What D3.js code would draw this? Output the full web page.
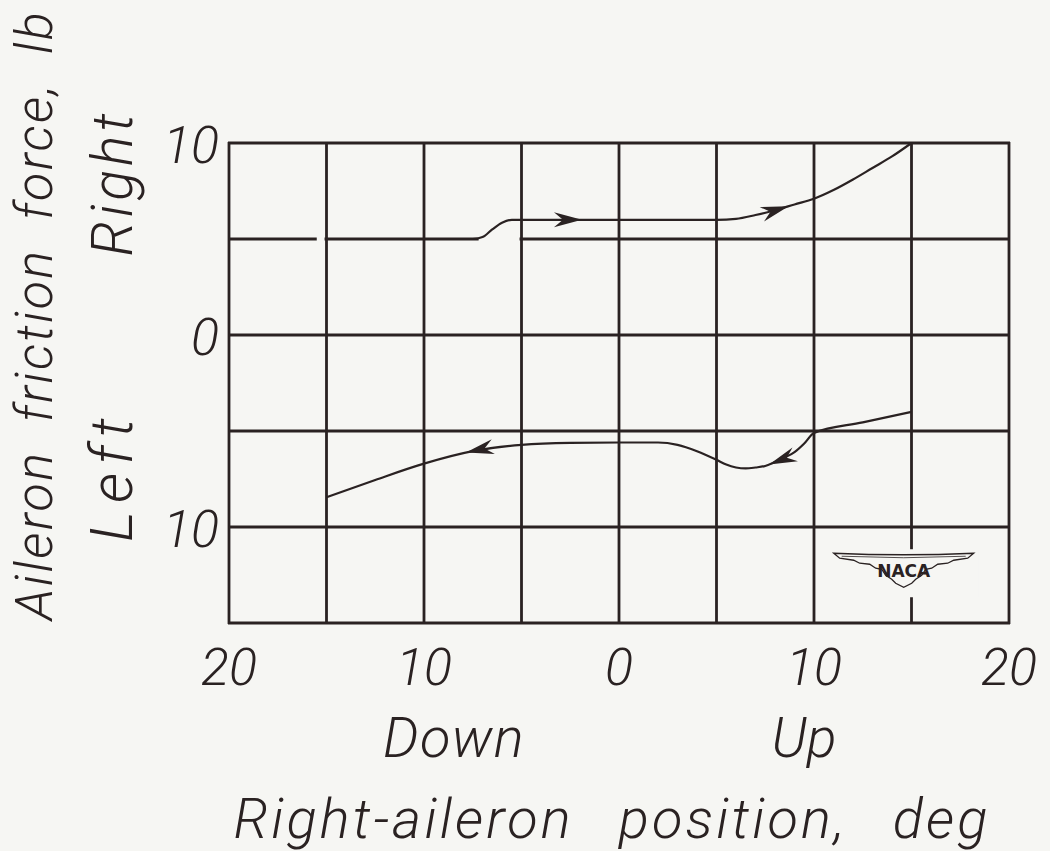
<!DOCTYPE html>
<html>
<head>
<meta charset="utf-8">
<script src="https://cdn.jsdelivr.net/npm/d3@7"></script>
<style>
  html, body { margin: 0; padding: 0; background: #f6f6f3; }
  svg { display: block; }
  text { font-family: Roboto, 'DejaVu Sans', sans-serif; font-style: italic; font-weight: 300; fill: #2a2222; }
</style>
</head>
<body>
<div id="chart-area"></div>
<script>
// right-aileron position (deg, down negative) vs friction force (lb, left negative)
const upperX = [-15, -10, -7.5, -7, -6.5, -6, -5.5, -5, 0, 5, 6, 7, 8, 9, 10, 11, 12, 13, 14, 15];
const upperY = [5, 5, 5, 5.1, 5.5, 5.85, 6, 6, 6, 6, 6.05, 6.25, 6.5, 6.8, 7.1, 7.55, 8.1, 8.7, 9.3, 10];
const lowerX = [-15, -12.5, -10, -7.5, -5, -2.5, 0, 2, 3, 4, 5, 5.5, 6, 6.5, 7, 7.5, 8, 8.5, 9, 9.5, 10, 12.5, 15];
const lowerY = [-8.45, -7.55, -6.7, -6.05, -5.72, -5.62, -5.6, -5.6, -5.72, -6.05, -6.5, -6.75, -6.9, -6.95, -6.9, -6.82, -6.62, -6.38, -6.1, -5.65, -5.1, -4.55, -4.0];
const upperArrows = [-1.9, 8.7];   // arrow tips, drawn toward increasing position
const lowerArrows = [7.7, -7.85];  // arrow tips, drawn toward decreasing position

const xTickValues = [-20, -10, 0, 10, 20];
const xTickLabels = ['20', '10', '0', '10', '20'];
const yTickValues = [10, 0, -10];
const yTickLabels = ['10', '0', '10'];

let width = 1050;
let height = 851;
let ink = '#2a2222';
let bg = '#f6f6f3';

let svg = d3
  .select('#chart-area')
  .append('svg')
  .attr('width', width)
  .attr('height', height);

let x = d3.scaleLinear().domain([-20, 20]).range([229, 1009]);
let y = d3.scaleLinear().domain([-15, 10]).range([623, 143]);

//grid
svg
  .selectAll('.vgrid')
  .data(x.ticks(8))
  .enter()
  .append('line')
  .attr('x1', (d) => x(d))
  .attr('x2', (d) => x(d))
  .attr('y1', y(10) - 1)
  .attr('y2', y(-15) + 1)
  .style('stroke', ink)
  .style('stroke-width', 2.8);

svg
  .selectAll('.hgrid')
  .data(y.ticks(5))
  .enter()
  .append('line')
  .attr('x1', x(-20) - 1)
  .attr('x2', x(20) + 1)
  .attr('y1', (d) => y(d))
  .attr('y2', (d) => y(d))
  .style('stroke', ink)
  .style('stroke-width', 2.8);

//gaps where the grid was broken on the original sheet
[[-15.5, -15.1], [-7.2, -5.1]].forEach((g) => {
  svg
    .append('line')
    .attr('x1', x(g[0]))
    .attr('x2', x(g[1]))
    .attr('y1', y(5))
    .attr('y2', y(5))
    .style('stroke', bg)
    .style('stroke-width', 4);
});

//NACA wing logo, sits over the grid
let logo = svg.append('g').attr('transform', `translate(${x(14.6)}, ${y(-12.2)})`);
logo.append('rect').attr('x', -75).attr('y', -20).attr('width', 150).attr('height', 48).style('fill', bg);
logo
  .append('path')
  .attr(
    'd',
    'M-70,-16 Q0,-13 70,-16 L64,-11 L50,-9 L44,-6 L34,-5 L28,-1 L22,0 L18,6 L12,10 L8,14 L0,18 L-8,14 L-12,10 L-18,6 L-22,0 L-28,-1 L-34,-5 L-44,-6 L-50,-9 L-64,-11 Z',
  )
  .style('fill', 'none')
  .style('stroke', ink)
  .style('stroke-width', 1.3);
logo
  .append('path')
  .attr('d', 'M-62,-13 Q0,-10 62,-13')
  .style('fill', 'none')
  .style('stroke', ink)
  .style('stroke-width', 0.8);
logo
  .append('text')
  .attr('x', 0)
  .attr('y', 8)
  .attr('text-anchor', 'middle')
  .style('font-family', "'DejaVu Sans', sans-serif")
  .style('font-size', '17px')
  .style('font-style', 'normal')
  .style('font-weight', 'bold')
  .text('NACA');

//curves
let line = d3
  .line()
  .x((d) => x(d[0]))
  .y((d) => y(d[1]))
  .curve(d3.curveMonotoneX);

function drawCurve(xs, ys, tips, reverse) {
  let path = svg
    .append('path')
    .datum(xs.map((v, i) => [v, ys[i]]))
    .attr('d', line)
    .style('fill', 'none')
    .style('stroke', ink)
    .style('stroke-width', 2.2);

  let node = path.node();
  let total = node.getTotalLength();
  tips.forEach((t) => {
    let target = x(t);
    let lo = 0;
    let hi = total;
    for (let k = 0; k < 40; k++) {
      let mid = (lo + hi) / 2;
      if (node.getPointAtLength(mid).x < target) lo = mid;
      else hi = mid;
    }
    let p = node.getPointAtLength(lo);
    let a = node.getPointAtLength(Math.max(0, lo - 2));
    let b = node.getPointAtLength(Math.min(total, lo + 2));
    let angle = (Math.atan2(b.y - a.y, b.x - a.x) * 180) / Math.PI;
    if (reverse) angle += 180;
    svg
      .append('path')
      .attr('d', 'M0,0 L-28,-7.5 L-19,0 L-28,7.5 Z')
      .attr('transform', `translate(${p.x}, ${p.y}) rotate(${angle})`)
      .style('fill', ink);
  });
}

drawCurve(upperX, upperY, upperArrows, false);
drawCurve(lowerX, lowerY, lowerArrows, true);

//tick labels
svg
  .selectAll('.xlabel')
  .data(xTickValues)
  .enter()
  .append('text')
  .attr('x', (d) => x(d))
  .attr('y', y(-15) + 62)
  .attr('text-anchor', 'middle')
  .style('font-size', '52px')
  .text((d, i) => xTickLabels[i]);

svg
  .selectAll('.ylabel')
  .data(yTickValues)
  .enter()
  .append('text')
  .attr('x', 219)
  .attr('y', (d) => y(d) + 20)
  .attr('text-anchor', 'end')
  .style('font-size', '52px')
  .text((d, i) => yTickLabels[i]);

//axis titles, fitted to the width of the hand lettering:
//extra room shared between letter spacing and the gaps between words
function label(txt, tx, ty, rot, len, size) {
  let t = svg
    .append('text')
    .attr('transform', `translate(${tx}, ${ty}) rotate(${rot})`)
    .attr('text-anchor', 'middle')
    .style('font-size', size + 'px')
    .text(txt);
  let natural = t.node().getComputedTextLength();
  let spaces = txt.split(' ').length - 1;
  let extra = len - natural;
  if (extra > 0) {
    let wordShare = spaces > 0 ? 0.4 : 0;
    t.style('letter-spacing', (extra * (1 - wordShare)) / txt.length + 'px');
    if (spaces > 0) t.style('word-spacing', (extra * wordShare) / spaces + 'px');
  } else {
    t.attr('textLength', len).attr('lengthAdjust', 'spacingAndGlyphs');
  }
}

label('Down', 454, 757, 0, 142, 56);
label('Up', 804, 757, 0, 65, 56);
label('Right-aileron position, deg', 612, 838, 0, 757, 56);
label('Aileron friction force, lb', 52, 315, -90, 610, 52);
label('Right', 132, 183, -90, 147, 57);
label('Left', 132, 476, -90, 132, 60);
</script>
</body>
</html>
